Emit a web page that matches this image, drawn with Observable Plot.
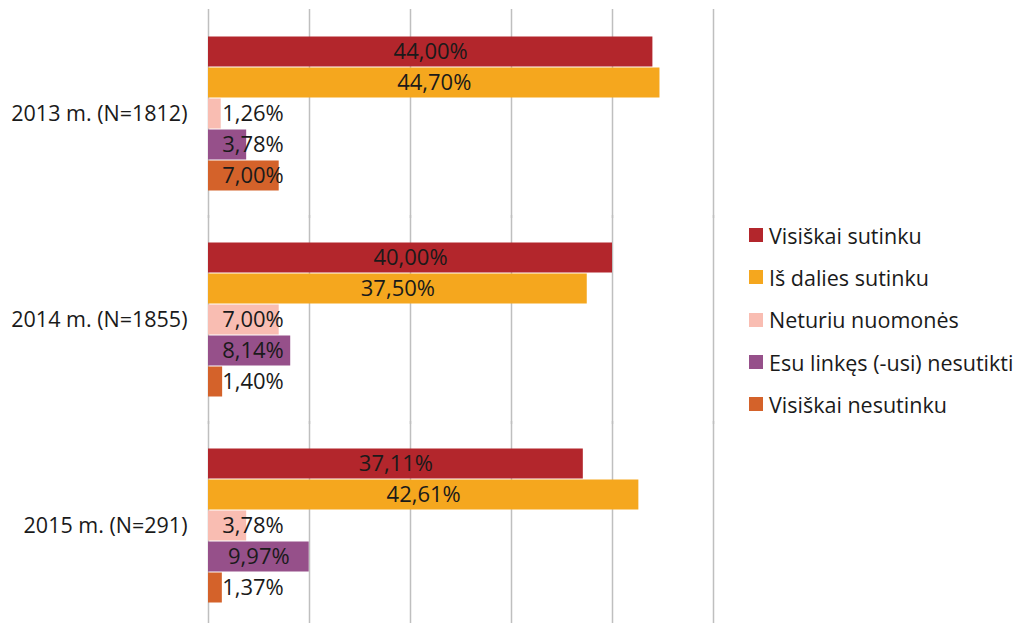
<!DOCTYPE html>
<html>
<head>
<meta charset="utf-8">
<script src="https://cdn.jsdelivr.net/npm/d3@7"></script>
<script src="https://cdn.jsdelivr.net/npm/@observablehq/plot@0.6"></script>
<style>
  html, body { margin: 0; padding: 0; background: #fff; }
  #wrap { position: relative; width: 1017px; height: 623px; overflow: hidden; font-family: "Open Sans", sans-serif; }
  #legend { position: absolute; left: 749px; top: 214px; font-size: 21.5px; color: #1a1a1a; }
  .item { display: flex; align-items: center; height: 42.3px; white-space: nowrap; }
  .sw { width: 14px; height: 14px; margin-right: 6px; flex: none; }
</style>
</head>
<body>
<div id="wrap"></div>
<script>
const years = ["2013 m. (N=1812)", "2014 m. (N=1855)", "2015 m. (N=291)"];
const categories = ["Visiškai sutinku", "Iš dalies sutinku", "Neturiu nuomonės", "Esu linkęs (-usi) nesutikti", "Visiškai nesutinku"];
const colors = ["#B3262C", "#F5A71E", "#F9BDB2", "#96508A", "#D4622A"];
const values2013 = [44.00, 44.70, 1.26, 3.78, 7.00];
const values2014 = [40.00, 37.50, 7.00, 8.14, 1.40];
const values2015 = [37.11, 42.61, 3.78, 9.97, 1.37];
const gridTicks = [0, 10, 20, 30, 40, 50];

const series = [values2013, values2014, values2015];
const data = [];
years.forEach((y, i) => categories.forEach((c, j) => data.push({year: y, cat: c, value: series[i][j]})));
const fmt = v => v.toFixed(2).replace(".", ",") + "%";

const chart = Plot.plot({
  width: 1017,
  height: 623,
  marginLeft: 208,
  marginRight: 304,
  marginTop: 9,
  marginBottom: -6,
  style: {fontFamily: "Open Sans, sans-serif", fontSize: "21.5px", color: "#1a1a1a", background: "transparent"},
  x: {domain: [0, 50], axis: null},
  y: {domain: categories, axis: null, padding: 0},
  fy: {domain: years, axis: "left", label: null, tickSize: 0, tickPadding: 21, paddingInner: 0.238, paddingOuter: 0.119},
  color: {domain: categories, range: colors},
  marks: [
    Plot.ruleX(gridTicks, {x: d => d, stroke: "#bfbfbf", strokeWidth: 1.5, insetTop: -26, insetBottom: -26}),
    Plot.barX(data, {x: "value", y: "cat", fy: "year", fill: "cat", insetTop: 0.5, insetBottom: 0.5}),
    Plot.text(data, {x: d => Math.max(d.value / 2, 4.4), y: "cat", fy: "year", text: d => fmt(d.value), fill: "#1a1a1a", fontSize: 22})
  ]
});
document.getElementById("wrap").appendChild(chart);

const legend = document.createElement("div");
legend.id = "legend";
categories.forEach((c, i) => {
  const it = document.createElement("div");
  it.className = "item";
  const sw = document.createElement("span");
  sw.className = "sw";
  sw.style.background = colors[i];
  const t = document.createElement("span");
  t.textContent = c;
  it.appendChild(sw); it.appendChild(t);
  legend.appendChild(it);
});
document.getElementById("wrap").appendChild(legend);
</script>
</body>
</html>
